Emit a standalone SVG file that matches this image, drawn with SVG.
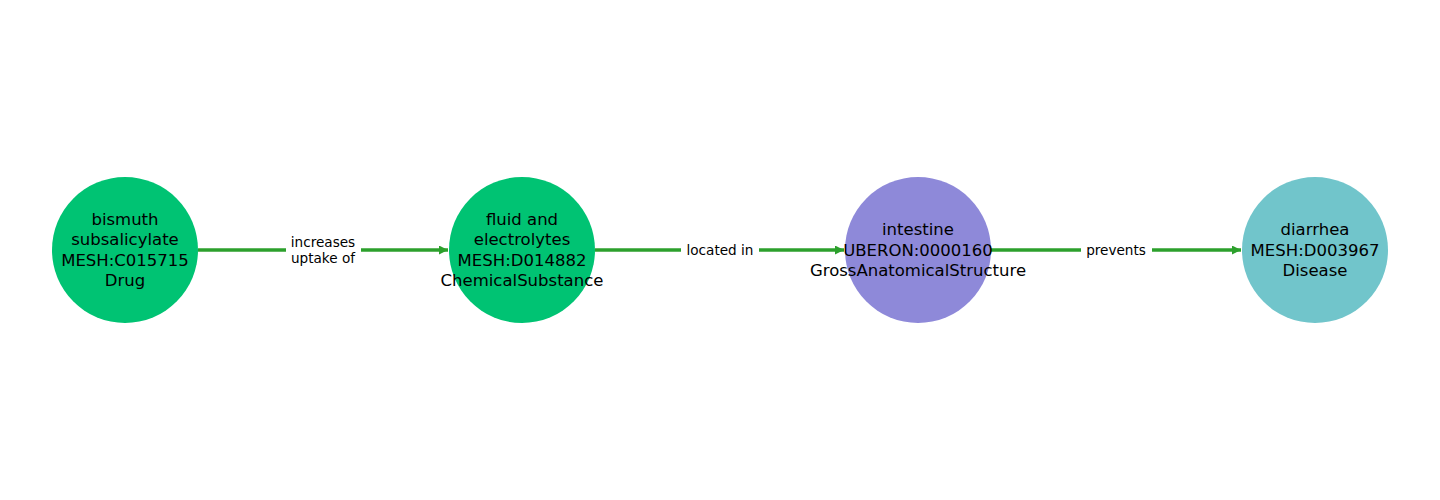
<svg xmlns="http://www.w3.org/2000/svg" width="1440" height="500" viewBox="0 0 1440 500">
<style>
.node text{font-family:"DejaVu Sans",sans-serif;font-size:16.5px;fill:#000;text-anchor:middle;dominant-baseline:central}
.edge line{stroke:#2ca02c;stroke-width:3.6}
.lbl{font-family:"DejaVu Sans",sans-serif;font-size:13.6px;fill:#000;text-anchor:middle;dominant-baseline:central}
.lblbg{fill:#fff}
</style>
<defs>
<marker id="arr" viewBox="0 0 10 10" refX="10" refY="5" markerWidth="10" markerHeight="9" markerUnits="userSpaceOnUse" orient="auto">
<path d="M0,0 L10,5 L0,10 Z" fill="#2ca02c"/>
</marker>
</defs>
<rect width="1440" height="500" fill="#fff"/>
<g id="connectors" class="edge">
<line x1="198" y1="250" x2="448" y2="250" marker-end="url(#arr)"/>
<line x1="595" y1="250" x2="844" y2="250" marker-end="url(#arr)"/>
<line x1="991" y1="250" x2="1241" y2="250" marker-end="url(#arr)"/>
<rect class="lblbg" x="286" y="232" width="75" height="36"/>
<text class="lbl" x="323" y="241.5">increases</text>
<text class="lbl" x="323" y="257.5">uptake of</text>
<rect class="lblbg" x="681" y="240" width="78" height="20"/>
<text class="lbl" x="720" y="250">located in</text>
<rect class="lblbg" x="1081" y="240" width="71" height="20"/>
<text class="lbl" x="1116" y="250">prevents</text>
</g>
<g id="node1" class="node">
<circle cx="125" cy="250" r="73" fill="#00c373"/>
<text x="125" y="219">bismuth</text>
<text x="125" y="239.5">subsalicylate</text>
<text x="125" y="260">MESH:C015715</text>
<text x="125" y="280.5">Drug</text>
</g>
<g id="node2" class="node">
<circle cx="522" cy="250" r="73" fill="#00c373"/>
<text x="522" y="219">fluid and</text>
<text x="522" y="239.5">electrolytes</text>
<text x="522" y="260">MESH:D014882</text>
<text x="522" y="280.5">ChemicalSubstance</text>
</g>
<g id="node3" class="node">
<circle cx="918" cy="250" r="73" fill="#8e89d9"/>
<text x="918" y="229.5">intestine</text>
<text x="918" y="250">UBERON:0000160</text>
<text x="918" y="270.5">GrossAnatomicalStructure</text>
</g>
<g id="node4" class="node">
<circle cx="1315" cy="250" r="73" fill="#71c5cb"/>
<text x="1315" y="229.5">diarrhea</text>
<text x="1315" y="250">MESH:D003967</text>
<text x="1315" y="270.5">Disease</text>
</g>
</svg>
